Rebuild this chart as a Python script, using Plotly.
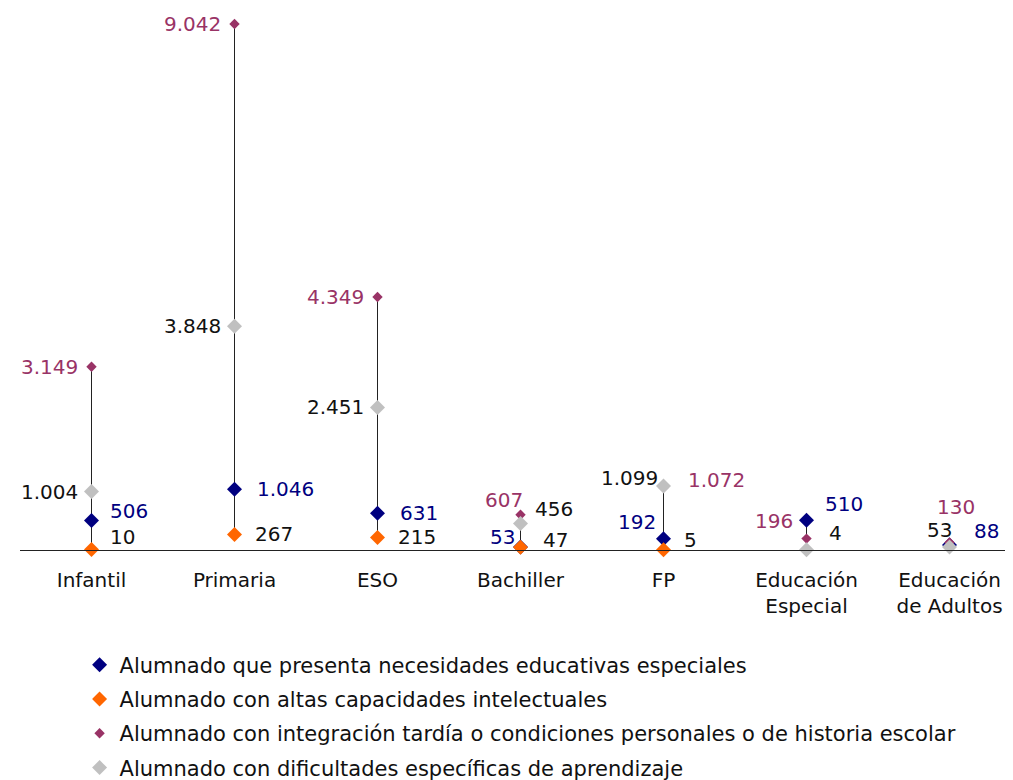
import plotly.graph_objects as go

categories = ["Infantil", "Primaria", "ESO", "Bachiller", "FP", "Educación Especial", "Educación de Adultos"]
tick_labels = ["Infantil", "Primaria", "ESO", "Bachiller", "FP", "Educación<br>Especial", "Educación<br>de Adultos"]

nee = [506, 1046, 631, 53, 192, 510, 88]            # necesidades educativas especiales
altas = [10, 267, 215, 47, 5, None, None]           # altas capacidades intelectuales
tardia = [3149, 9042, 4349, 607, 1072, 196, 130]    # integración tardía / historia escolar
dificultades = [1004, 3848, 2451, 456, 1099, 4, 53] # dificultades específicas de aprendizaje

names = [
    "Alumnado que presenta necesidades educativas especiales",
    "Alumnado con altas capacidades intelectuales",
    "Alumnado con integración tardía o condiciones personales o de historia escolar",
    "Alumnado con dificultades específicas de aprendizaje",
]

series = [nee, altas, tardia, dificultades]
colors = ["#000080", "#FF6600", "#993366", "#C0C0C0"]
label_colors = ["#000080", "#111111", "#993366", "#111111"]
sizes = [11.5, 11.5, 8, 11.5]

FONT = "DejaVu Sans, Arial"

# label offsets in pixels (xshift, yshift, xanchor) per series per category
offsets = [
    [(16, 10, "left"), (20, 0, "left"), (20, 0, "left"), (-4, 10, "right"), (-6, 17, "right"), (16, 16, "left"), (22, 14, "left")],
    [(16, 12, "left"), (18, 0, "left"), (18, 0, "left"), (20, 7, "left"), (18, 10, "left"), None, None],
    [(-12, 0, "right"), (-12, 0, "right"), (-12, 0, "right"), (4, 15, "right"), (22, 8, "left"), (-12, 18, "right"), (6, 35, "center")],
    [(-12, 0, "right"), (-12, 0, "right"), (-12, 0, "right"), (12, 14, "left"), (-4, 8, "right"), (20, 17, "left"), (4, 17, "right")],
]

def fmt(v):
    return f"{v:,}".replace(",", ".")

fig = go.Figure()

# high-low lines
lx, ly = [], []
for i, c in enumerate(categories):
    vals = [s[i] for s in series if s[i] is not None]
    lx += [c, c, None]
    ly += [min(vals), max(vals), None]
fig.add_trace(go.Scatter(x=lx, y=ly, mode="lines", line=dict(color="#222222", width=1),
                         showlegend=False, hoverinfo="skip", cliponaxis=False))

for k, s in enumerate(series):
    fig.add_trace(go.Scatter(
        x=categories, y=s, mode="markers", name=names[k],
        marker=dict(symbol="diamond", size=sizes[k], color=colors[k], line=dict(width=0)),
        legendgroup=str(k), cliponaxis=False,
    ))
    for i, v in enumerate(s):
        if v is None or offsets[k][i] is None:
            continue
        xs, ys, xa = offsets[k][i]
        fig.add_annotation(x=categories[i], y=v, text=fmt(v), showarrow=False,
                           xshift=xs, yshift=ys, xanchor=xa, yanchor="middle",
                           font=dict(size=20, color=label_colors[k], family=FONT))

ymax = 540 * 9042 / 526
fig.update_layout(
    width=1005, height=772,
    margin=dict(l=12, r=0, t=2, b=230, autoexpand=False),
    plot_bgcolor="white", paper_bgcolor="white",
    font=dict(family=FONT, size=20, color="#111111"),
    xaxis=dict(type="category", range=[-0.5, 6.444], tickmode="array", tickvals=categories,
               ticktext=tick_labels, showgrid=False, showline=True, linecolor="#222222",
               linewidth=1, ticks="", ticklabelstandoff=12, tickfont=dict(size=20),
               zeroline=False, automargin=False),
    yaxis=dict(range=[0, ymax], visible=False, showgrid=False, zeroline=False, automargin=False),
    showlegend=True,
    legend=dict(x=0.06, y=-0.175, xanchor="left", yanchor="top", tracegroupgap=4,
                font=dict(size=21, color="#111111"), itemwidth=30, bgcolor="rgba(0,0,0,0)"),
    hovermode=False,
)

fig.write_html("out.html")
